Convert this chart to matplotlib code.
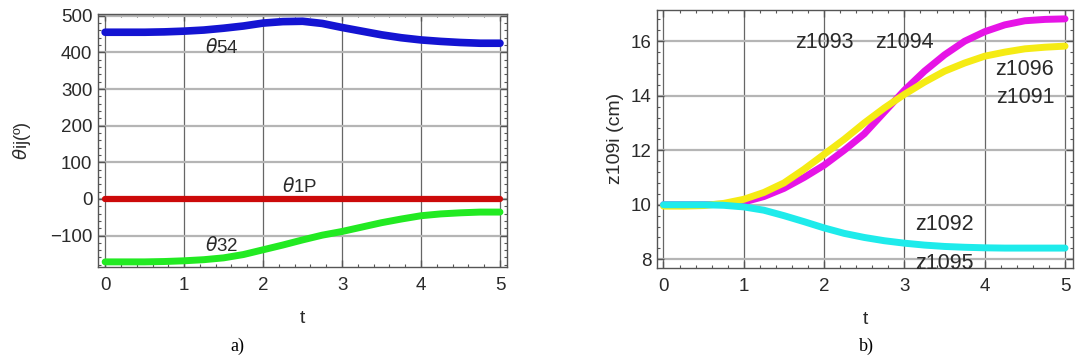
import numpy as np
import matplotlib.pyplot as plt
from matplotlib.ticker import MultipleLocator

### Donnees ###

t = [0, 0.25, 0.5, 0.75, 1, 1.25, 1.5, 1.75, 2, 2.25, 2.5, 2.75, 3, 3.25, 3.5, 3.75, 4, 4.25, 4.5, 4.75, 5]

# a) angles en degres
theta54 = [455, 455, 455, 456, 458, 461, 466, 472, 480, 484, 485, 479, 468, 458, 448, 440, 434, 430, 427, 425, 425]
theta1P = [0] * len(t)
theta32 = [-172, -172, -172, -171, -169, -166, -161, -152, -139, -126, -112, -99, -89, -77, -65, -55, -46, -41, -38, -36, -36]

# b) hauteurs en cm
z_haut = [10, 10, 10, 10.02, 10.1, 10.3, 10.6, 11.0, 11.45, 12.0, 12.6, 13.4, 14.2, 14.9, 15.5, 16.0, 16.35, 16.6, 16.75, 16.8, 16.82]
z_moy = [9.95, 9.95, 9.97, 10.05, 10.2, 10.45, 10.8, 11.3, 11.85, 12.4, 13.0, 13.55, 14.05, 14.5, 14.9, 15.2, 15.45, 15.6, 15.72, 15.78, 15.82]
z_bas = [10, 10, 10, 9.98, 9.92, 9.8, 9.6, 9.38, 9.15, 8.95, 8.8, 8.68, 8.59, 8.52, 8.47, 8.44, 8.42, 8.41, 8.41, 8.41, 8.41]

plt.rcParams['font.family'] = ['Liberation Sans', 'DejaVu Sans']
plt.rcParams['mathtext.fontset'] = 'dejavusans'

fig = plt.figure(figsize=(10.75, 3.6), dpi=100)
ax1 = fig.add_axes([0.0912, 0.2583, 0.3805, 0.703])
ax2 = fig.add_axes([0.6112, 0.2556, 0.387, 0.717])

gris = '#2a2a2a'


def habillage(ax, yminor):
    # cadre facon Mathematica : ticks vers l'interieur sur les 4 cotes
    for s in ax.spines.values():
        s.set_color('#555555')
        s.set_linewidth(1.0)
    ax.xaxis.set_major_locator(MultipleLocator(1))
    ax.xaxis.set_minor_locator(MultipleLocator(0.2))
    ax.yaxis.set_minor_locator(MultipleLocator(yminor))
    ax.tick_params(which='both', direction='in', top=True, right=True, colors='#555555',
                   labelcolor=gris, labelsize=13.5)
    ax.tick_params(which='major', length=5, width=1)
    ax.tick_params(which='minor', length=2.5, width=0.8)
    ax.tick_params(axis='x', pad=7)
    ax.tick_params(axis='y', pad=4)
    ax.grid(axis='x', which='major', color='#666666', lw=0.9)
    ax.grid(axis='y', which='major', color='#b5b5b5', lw=1.6)
    ax.set_axisbelow(True)


### a) ###
ax1.plot(t, theta54, color='#1414d2', lw=5.5, solid_capstyle='round')
ax1.plot(t, theta1P, color='#cc0a0a', lw=4.5, solid_capstyle='round')
ax1.plot(t, theta32, color='#22ea22', lw=5, solid_capstyle='round')
ax1.set_xlim(-0.09, 5.09)
ax1.set_ylim(-186, 505)
ax1.yaxis.set_major_locator(MultipleLocator(100))
habillage(ax1, 20)
ax1.text(1.48, 414, r'$\theta$54', fontsize=13.5, color=gris, ha='center', va='center')
ax1.text(2.47, 33, r'$\theta$1P', fontsize=13.5, color=gris, ha='center', va='center')
ax1.text(1.48, -126, r'$\theta$32', fontsize=13.5, color=gris, ha='center', va='center')
ax1.set_xlabel('t', fontsize=14, color=gris, labelpad=12)
ax1.set_ylabel(r'$\theta$ij(º)', fontsize=13, color=gris, labelpad=12)

### b) ###
ax2.plot(t, z_haut, color='#e614e6', lw=5, solid_capstyle='round')
ax2.plot(t, z_moy, color='#f5eb14', lw=5, solid_capstyle='round')
ax2.plot(t, z_bas, color='#1eebeb', lw=5, solid_capstyle='round')
ax2.set_xlim(-0.08, 5.1)
ax2.set_ylim(7.68, 17.15)
ax2.yaxis.set_major_locator(MultipleLocator(2))
habillage(ax2, 0.4)
for lab, x, y in [('z1093', 2.0, 15.95), ('z1094', 3.0, 15.95), ('z1096', 4.5, 14.95),
                  ('z1091', 4.5, 13.92), ('z1092', 3.5, 9.27), ('z1095', 3.5, 7.86)]:
    ax2.text(x, y, lab, fontsize=15.5, color=gris, ha='center', va='center', clip_on=False)
ax2.set_xlabel('t', fontsize=14, color=gris, labelpad=12)
ax2.set_ylabel('z109i (cm)', fontsize=14, color=gris, labelpad=5)

# legendes a) et b) sous les graphes
fig.text(237 / 1075, 1 - 346 / 360, 'a)', fontsize=13, family='Liberation Serif', ha='center', va='center')
fig.text(866 / 1075, 1 - 346 / 360, 'b)', fontsize=13, family='Liberation Serif', ha='center', va='center')

fig.savefig('out.png', dpi=100)
